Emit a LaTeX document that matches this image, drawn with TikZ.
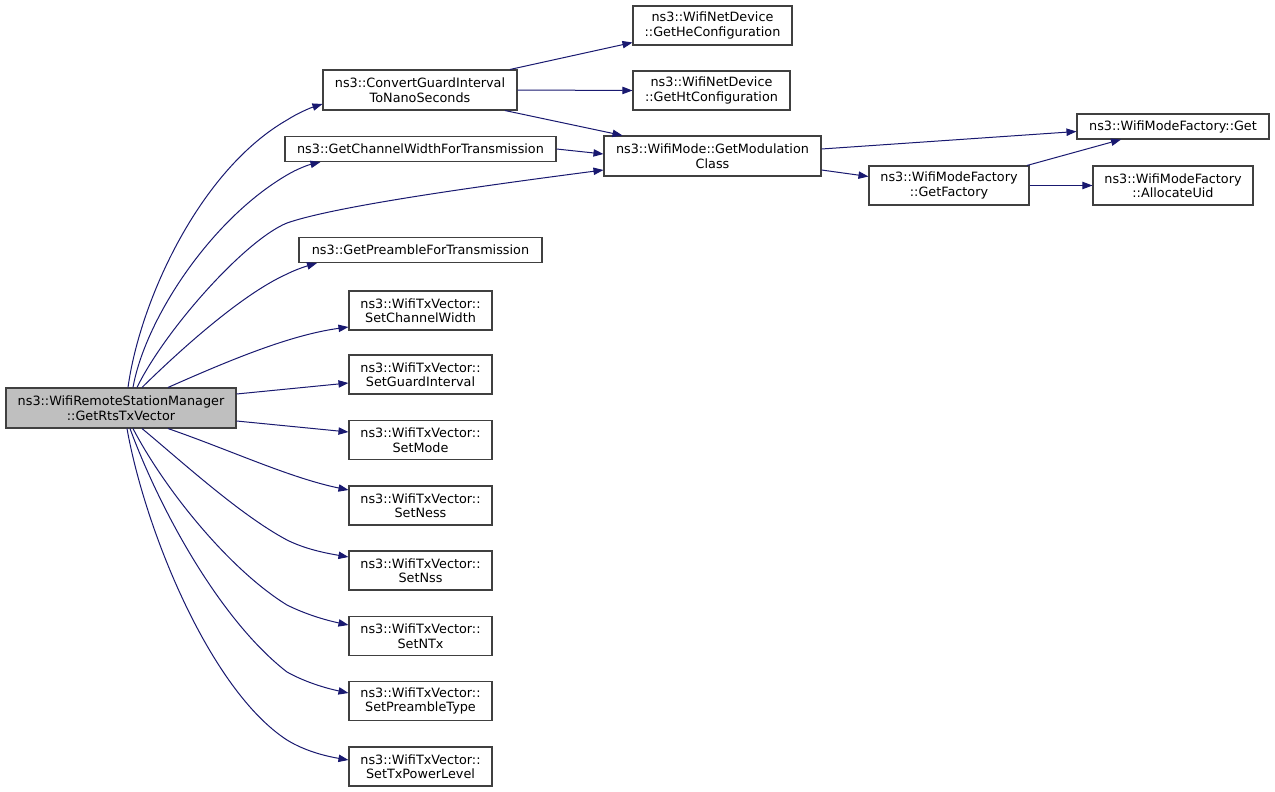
\documentclass[tikz,border=0pt]{standalone}
\usepackage{fontspec}
\setmainfont{DejaVu Sans}
\usetikzlibrary{arrows.meta,calc}
\definecolor{edgec}{HTML}{191970}
\definecolor{boxc}{HTML}{404040}
\definecolor{mainfill}{HTML}{BFBFBF}
\begin{document}
\begin{tikzpicture}[x=0.75pt,y=-0.75pt,
  box/.style={draw=boxc,line width=0.8pt,fill=white,inner sep=0pt,align=center,
    font=\fontsize{9.6pt}{10.9pt}\selectfont},
  two/.style={minimum height=39*0.75pt},
  one/.style={minimum height=25*0.75pt},
  edge/.style={draw=edgec,line width=0.75pt,-{Triangle[length=7.5pt,width=5.5pt]}}]
\useasboundingbox (0,0) rectangle (1275,792);
\fill[white] (0,0) rectangle (1275,792);
% nodes
\node[box,two,fill=mainfill,minimum width=230*0.75pt,minimum height=40*0.75pt] (main) at (121,408) {ns3::WifiRemoteStationManager\\::GetRtsTxVector};
\node[box,two,minimum width=194*0.75pt,minimum height=40*0.75pt] (conv) at (420,90) {ns3::ConvertGuardInterval\\ToNanoSeconds};
\node[box,one,minimum width=271*0.75pt] (chw) at (420.5,149) {ns3::GetChannelWidthForTransmission};
\node[box,one,minimum width=243*0.75pt] (pre) at (420.5,250) {ns3::GetPreambleForTransmission};
\node[box,two,minimum width=143*0.75pt] (setcw) at (420.5,310.5) {ns3::WifiTxVector::\\SetChannelWidth};
\node[box,two,minimum width=143*0.75pt] (setgi) at (420.5,374.5) {ns3::WifiTxVector::\\SetGuardInterval};
\node[box,two,minimum width=143*0.75pt] (setmode) at (420.5,440) {ns3::WifiTxVector::\\SetMode};
\node[box,two,minimum width=143*0.75pt] (setness) at (420.5,505.5) {ns3::WifiTxVector::\\SetNess};
\node[box,two,minimum width=143*0.75pt] (setnss) at (420.5,570.5) {ns3::WifiTxVector::\\SetNss};
\node[box,two,minimum width=143*0.75pt] (setntx) at (420.5,636) {ns3::WifiTxVector::\\SetNTx};
\node[box,two,minimum width=143*0.75pt] (setpre) at (420.5,701) {ns3::WifiTxVector::\\SetPreambleType};
\node[box,two,minimum width=143*0.75pt] (settx) at (420.5,766.5) {ns3::WifiTxVector::\\SetTxPowerLevel};
\node[box,two,minimum width=159*0.75pt] (he) at (712.5,25.5) {ns3::WifiNetDevice\\::GetHeConfiguration};
\node[box,two,minimum width=157*0.75pt] (ht) at (711.5,90.5) {ns3::WifiNetDevice\\::GetHtConfiguration};
\node[box,two,minimum width=217*0.75pt,minimum height=40*0.75pt] (mod) at (712.5,156) {ns3::WifiMode::GetModulation\\Class};
\node[box,one,minimum width=192*0.75pt] (get) at (1173,126.5) {ns3::WifiModeFactory::Get};
\node[box,two,minimum width=160*0.75pt] (fac) at (949,185.5) {ns3::WifiModeFactory\\::GetFactory};
\node[box,two,minimum width=160*0.75pt] (uid) at (1173,185.5) {ns3::WifiModeFactory\\::AllocateUid};
% edges from main, upwards
\draw[edge] ($(main.north)+(7,0)$) .. controls (140,300) and (200,170) .. (287,120)
  .. controls (298,113) and (310,108) .. ($(conv.west)+(0,14)$);
\draw[edge] ($(main.north)+(12,0)$) .. controls (145,320) and (210,220) .. (287,175)
  .. controls (297,169) and (308,165) .. ($(chw.south)+(-100,0)$);
\draw[edge] ($(main.north)+(16,0)$) .. controls (165,330) and (245,240) .. (287,223)
  .. controls (330,208) and (450,190) .. ($(mod.west)+(0,14)$);
\draw[edge] ($(main.north)+(21,0)$) .. controls (175,355) and (240,295) .. (287,274)
  .. controls (297,269) and (307,266) .. ($(pre.south)+(-103.5,0)$);
\draw[edge] ($(main.north)+(47,0)$) .. controls (230,360) and (290,335) .. ($(setcw.west)+(0,16.5)$);
\draw[edge] ($(main.east)+(0,-14)$) -- ($(setgi.west)+(0,8.5)$);
% edges from main, downwards
\draw[edge] ($(main.east)+(0,13)$) -- ($(setmode.west)+(0,-8)$);
\draw[edge] ($(main.south)+(47,0)$) .. controls (230,450) and (290,478) .. ($(setness.west)+(0,-15.5)$);
\draw[edge] ($(main.south)+(21,0)$) .. controls (180,460) and (240,515) .. (287,540)
  .. controls (305,549) and (325,553) .. ($(setnss.west)+(0,-13.5)$);
\draw[edge] ($(main.south)+(12,0)$) .. controls (165,490) and (230,570) .. (287,605)
  .. controls (305,614) and (325,620) .. ($(setntx.west)+(0,-11)$);
\draw[edge] ($(main.south)+(9,0)$) .. controls (160,510) and (220,620) .. (287,672)
  .. controls (305,682) and (325,688) .. ($(setpre.west)+(0,-8)$);
\draw[edge] ($(main.south)+(6,0)$) .. controls (145,530) and (210,690) .. (287,740)
  .. controls (305,751) and (325,756) .. ($(settx.west)+(0,-6.5)$);
% other edges
\draw[edge] ($(conv.north)+(90,0)$) -- ($(he.west)+(0,17)$);
\draw[edge] (conv.east) -- (ht.west);
\draw[edge] ($(conv.south)+(85,0)$) -- ($(mod.north)+(-90,0)$);
\draw[edge] (chw.east) -- ($(mod.west)+(0,-2)$);
\draw[edge] ($(mod.east)+(0,-7)$) -- ($(get.west)+(0,5)$);
\draw[edge] ($(mod.east)+(0,14)$) -- ($(fac.west)+(0,-9)$);
\draw[edge] ($(fac.north)+(78,0)$) -- ($(get.south)+(-52,0)$);
\draw[edge] (fac.east) -- (uid.west);
\end{tikzpicture}
\end{document}
